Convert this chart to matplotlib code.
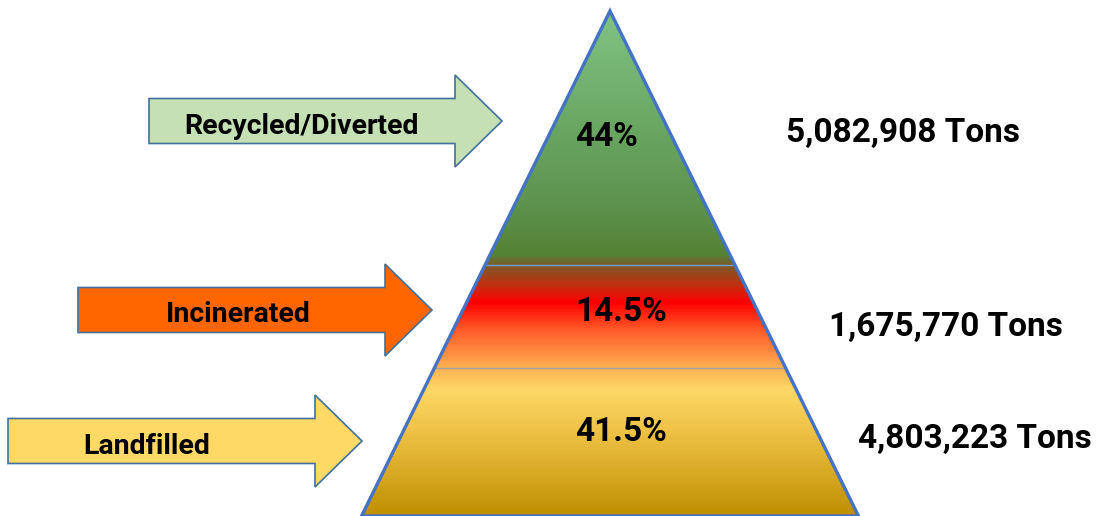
import matplotlib.pyplot as plt
import numpy as np
from matplotlib.patches import Polygon, FancyArrow
from matplotlib.colors import LinearSegmentedColormap

# data
categories = ['Recycled/Diverted', 'Incinerated', 'Landfilled']
percents = ['44%', '14.5%', '41.5%']
tons = ['5,082,908 Tons', '1,675,770 Tons', '4,803,223 Tons']
arrow_colors = ['#c5e0b4', '#ff6600', '#ffd966']

plt.rcParams['font.family'] = ['Roboto', 'DejaVu Sans']

fig = plt.figure(figsize=(10.96, 5.16), dpi=100)
ax = fig.add_axes([0, 0, 1, 1])
ax.set_xlim(0, 1096)
ax.set_ylim(516, 0)
ax.axis('off')

# pyramid geometry (pixel layout)
apex = (610, 11)
base_y = 516
slope = 0.492
left_base = apex[0] - (base_y - apex[1]) * slope
right_base = apex[0] + (base_y - apex[1]) * slope
tri = Polygon([apex, (left_base, base_y), (right_base, base_y)], closed=True,
              facecolor='none', edgecolor='#4472c4', lw=2.4, zorder=4)

# vertical gradient fill, stops given as (y pixel, color)
stops = [(11, '#82c384'), (120, '#6aa864'), (200, '#5e9450'), (255, '#548235'),
         (265, '#7a5a2a'), (285, '#c03010'), (303, '#ff0000'), (330, '#ff5a28'),
         (352, '#ff8a40'), (368, '#ffb050'), (390, '#fdd866'), (450, '#e6b838'),
         (516, '#bf8f00')]
y0, y1 = stops[0][0], stops[-1][0]
cmap = LinearSegmentedColormap.from_list(
    'pyr', [((y - y0) / (y1 - y0), c) for y, c in stops])
grad = np.linspace(0, 1, 600).reshape(-1, 1)
im = ax.imshow(grad, cmap=cmap, aspect='auto', extent=(left_base, right_base, y1, y0),
               zorder=2, interpolation='bilinear')
clip = Polygon([apex, (left_base, base_y), (right_base, base_y)], closed=True,
               transform=ax.transData)
im.set_clip_path(clip)
ax.add_patch(tri)

# layer boundary lines
for yb, col in [(265, '#6f9fd0'), (368, '#a0a0a0')]:
    hw = (yb - apex[1]) * slope
    ax.plot([apex[0] - hw, apex[0] + hw], [yb, yb], color=col, lw=1.0, zorder=3)

# arrows: (tail x, tip x, center y)
arrow_pos = [(149, 502, 121), (78, 432, 310), (8, 362, 441)]
label_x = [302, 238, 147]
for (x0, x1, yc), col, lab, lx in zip(arrow_pos, arrow_colors, categories, label_x):
    ax.add_patch(FancyArrow(x0, yc, x1 - x0, 0, width=45, head_width=92,
                            head_length=47, length_includes_head=True,
                            facecolor=col, edgecolor='#41719c', lw=1.2, zorder=3))
    ax.text(lx, yc + 5, lab, ha='center', va='center', fontsize=20.5,
            fontweight='bold', color='black', zorder=5)

# percentages inside the pyramid
pct_pos = [(606, 137), (621, 312), (621, 432)]
for (px, py), p in zip(pct_pos, percents):
    ax.text(px, py, p, ha='center', va='center', fontsize=24,
            fontweight='bold', color='black', zorder=5)

# tonnage labels
tons_pos = [(786, 133), (829, 327), (858, 439)]
for (tx, ty), t in zip(tons_pos, tons):
    ax.text(tx, ty, t, ha='left', va='center', fontsize=24,
            fontweight='bold', color='black', zorder=5)

fig.savefig('out.png', dpi=100)
